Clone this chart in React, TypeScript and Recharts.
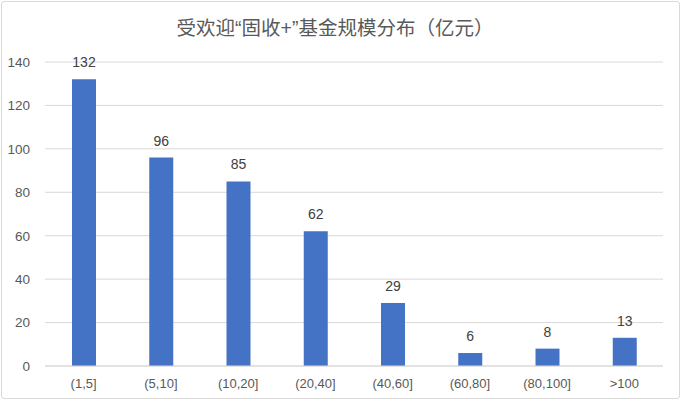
import React from 'react';
import { BarChart, Bar, XAxis, YAxis, CartesianGrid, LabelList } from 'recharts';

const categories = ['(1,5]', '(5,10]', '(10,20]', '(20,40]', '(40,60]', '(60,80]', '(80,100]', '>100'];
const counts = [132, 96, 85, 62, 29, 6, 8, 13];
const yTicks = [0, 20, 40, 60, 80, 100, 120, 140];

const data = categories.map((c, i) => ({ name: c, value: counts[i] }));

const FONT = '"Liberation Sans Narrow", "Liberation Sans", Arial, sans-serif';

export default function App() {
  return (
    <div style={{ position: 'fixed', left: 0, top: 0, width: 683, height: 406, background: '#fff' }}>
      <div
        style={{
          position: 'absolute',
          left: 1,
          top: 1,
          width: 679,
          height: 398,
          border: '1px solid #d9d9d9',
          borderRadius: 3,
          boxSizing: 'border-box',
        }}
      />
      <div
        style={{
          position: 'absolute',
          left: 0,
          top: 15,
          width: 670,
          textAlign: 'center',
          fontFamily: '"Liberation Sans", "Noto Sans CJK SC", sans-serif',
          fontSize: 19.5,
          color: '#595959',
          lineHeight: '26px',
        }}
      >
        受欢迎“固收+”基金规模分布（亿元）
      </div>
      <BarChart
        width={683}
        height={406}
        data={data}
        margin={{ top: 62, right: 20, bottom: 10, left: 0 }}
        barCategoryGap={0}
      >
        <CartesianGrid vertical={false} stroke="#d9d9d9" strokeWidth={1} />
        <XAxis
          dataKey="name"
          axisLine={{ stroke: '#d9d9d9' }}
          tickLine={false}
          height={30}
          tick={{ fill: '#595959', fontSize: 13, fontFamily: FONT }}
          tickMargin={7}
          interval={0}
        />
        <YAxis
          width={45}
          domain={[0, 140]}
          ticks={yTicks}
          axisLine={false}
          tickLine={false}
          tick={{ fill: '#595959', fontSize: 13.5, fontFamily: FONT }}
          tickMargin={9}
        />
        <Bar dataKey="value" fill="#4472C4" barSize={24} isAnimationActive={false}>
          <LabelList
            dataKey="value"
            position="top"
            offset={12}
            style={{ fill: '#404040', fontSize: 14, fontFamily: FONT }}
          />
        </Bar>
      </BarChart>
    </div>
  );
}
